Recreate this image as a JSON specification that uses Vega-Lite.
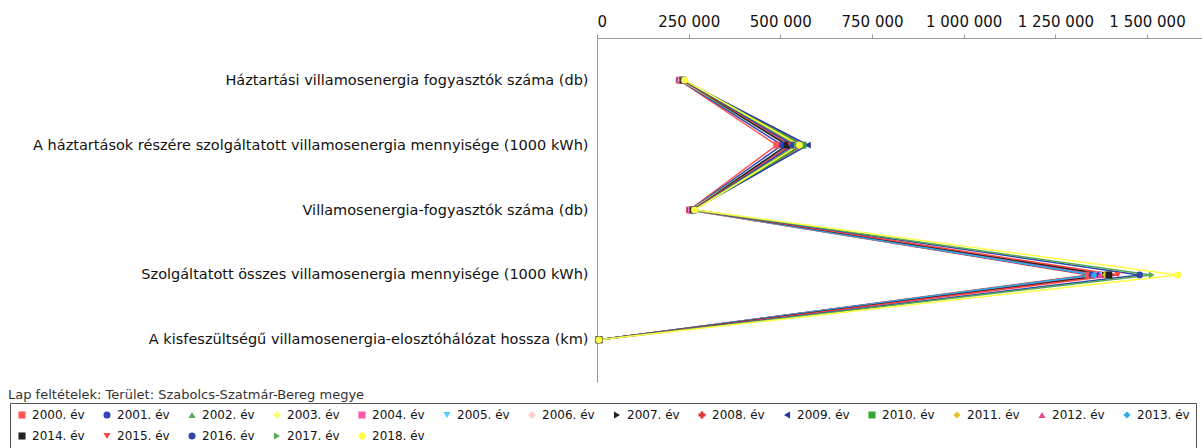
{
  "$schema": "https://vega.github.io/schema/vega-lite/v6.json",
  "autosize": {"type": "none"},
  "width": 605,
  "height": 344,
  "padding": {"left": 597, "top": 38, "right": 0, "bottom": 66},
  "background": "white",
  "title": {"text": "Lap feltételek: Terület: Szabolcs-Szatmár-Bereg megye", "orient": "bottom", "anchor": "start", "frame": "group", "dx": -589, "dy": -65, "offset": 5, "fontSize": 13, "fontWeight": "normal", "font": "DejaVu Sans", "color": "#333"},
  "config": {
    "view": {"stroke": null},
    "font": "DejaVu Sans",
    "legend": {"orient": "none", "legendX": -587, "legendY": 365, "direction": "horizontal", "columns": 14, "strokeColor": "#555", "padding": 6, "labelFontSize": 12, "labelFont": "DejaVu Sans", "labelColor": "#111", "symbolSize": 50, "columnPadding": 16, "rowPadding": 9, "title": null, "symbolStrokeWidth": 0, "fillColor": "white"}
  },
  "resolve": {"legend": {"color": "independent", "shape": "independent"}},
  "datasets": {
    "d": [
      {"year":"2000. év","cat":"Háztartási villamosenergia fogyasztók száma (db)","value":224000},
      {"year":"2001. év","cat":"Háztartási villamosenergia fogyasztók száma (db)","value":225500},
      {"year":"2002. év","cat":"Háztartási villamosenergia fogyasztók száma (db)","value":226800},
      {"year":"2003. év","cat":"Háztartási villamosenergia fogyasztók száma (db)","value":228000},
      {"year":"2004. év","cat":"Háztartási villamosenergia fogyasztók száma (db)","value":229000},
      {"year":"2005. év","cat":"Háztartási villamosenergia fogyasztók száma (db)","value":230200},
      {"year":"2006. év","cat":"Háztartási villamosenergia fogyasztók száma (db)","value":231000},
      {"year":"2007. év","cat":"Háztartási villamosenergia fogyasztók száma (db)","value":232000},
      {"year":"2008. év","cat":"Háztartási villamosenergia fogyasztók száma (db)","value":232800},
      {"year":"2009. év","cat":"Háztartási villamosenergia fogyasztók száma (db)","value":233500},
      {"year":"2010. év","cat":"Háztartási villamosenergia fogyasztók száma (db)","value":234000},
      {"year":"2011. év","cat":"Háztartási villamosenergia fogyasztók száma (db)","value":234600},
      {"year":"2012. év","cat":"Háztartási villamosenergia fogyasztók száma (db)","value":235000},
      {"year":"2013. év","cat":"Háztartási villamosenergia fogyasztók száma (db)","value":235500},
      {"year":"2014. év","cat":"Háztartási villamosenergia fogyasztók száma (db)","value":236000},
      {"year":"2015. év","cat":"Háztartási villamosenergia fogyasztók száma (db)","value":236800},
      {"year":"2016. év","cat":"Háztartási villamosenergia fogyasztók száma (db)","value":237500},
      {"year":"2017. év","cat":"Háztartási villamosenergia fogyasztók száma (db)","value":238200},
      {"year":"2018. év","cat":"Háztartási villamosenergia fogyasztók száma (db)","value":239000},
      {"year":"2000. év","cat":"A háztartások részére szolgáltatott villamosenergia mennyisége (1000 kWh)","value":490000},
      {"year":"2001. év","cat":"A háztartások részére szolgáltatott villamosenergia mennyisége (1000 kWh)","value":505000},
      {"year":"2002. év","cat":"A háztartások részére szolgáltatott villamosenergia mennyisége (1000 kWh)","value":520000},
      {"year":"2003. év","cat":"A háztartások részére szolgáltatott villamosenergia mennyisége (1000 kWh)","value":532000},
      {"year":"2004. év","cat":"A háztartások részére szolgáltatott villamosenergia mennyisége (1000 kWh)","value":538000},
      {"year":"2005. év","cat":"A háztartások részére szolgáltatott villamosenergia mennyisége (1000 kWh)","value":548000},
      {"year":"2006. év","cat":"A háztartások részére szolgáltatott villamosenergia mennyisége (1000 kWh)","value":552000},
      {"year":"2007. év","cat":"A háztartások részére szolgáltatott villamosenergia mennyisége (1000 kWh)","value":558000},
      {"year":"2008. év","cat":"A háztartások részére szolgáltatott villamosenergia mennyisége (1000 kWh)","value":565000},
      {"year":"2009. év","cat":"A háztartások részére szolgáltatott villamosenergia mennyisége (1000 kWh)","value":575000},
      {"year":"2010. év","cat":"A háztartások részére szolgáltatott villamosenergia mennyisége (1000 kWh)","value":562000},
      {"year":"2011. év","cat":"A háztartások részére szolgáltatott villamosenergia mennyisége (1000 kWh)","value":548000},
      {"year":"2012. év","cat":"A háztartások részére szolgáltatott villamosenergia mennyisége (1000 kWh)","value":540000},
      {"year":"2013. év","cat":"A háztartások részére szolgáltatott villamosenergia mennyisége (1000 kWh)","value":525000},
      {"year":"2014. év","cat":"A háztartások részére szolgáltatott villamosenergia mennyisége (1000 kWh)","value":518000},
      {"year":"2015. év","cat":"A háztartások részére szolgáltatott villamosenergia mennyisége (1000 kWh)","value":528000},
      {"year":"2016. év","cat":"A háztartások részére szolgáltatott villamosenergia mennyisége (1000 kWh)","value":535000},
      {"year":"2017. év","cat":"A háztartások részére szolgáltatott villamosenergia mennyisége (1000 kWh)","value":545000},
      {"year":"2018. év","cat":"A háztartások részére szolgáltatott villamosenergia mennyisége (1000 kWh)","value":552000},
      {"year":"2000. év","cat":"Villamosenergia-fogyasztók száma (db)","value":252000},
      {"year":"2001. év","cat":"Villamosenergia-fogyasztók száma (db)","value":253500},
      {"year":"2002. év","cat":"Villamosenergia-fogyasztók száma (db)","value":254800},
      {"year":"2003. év","cat":"Villamosenergia-fogyasztók száma (db)","value":256000},
      {"year":"2004. év","cat":"Villamosenergia-fogyasztók száma (db)","value":257000},
      {"year":"2005. év","cat":"Villamosenergia-fogyasztók száma (db)","value":258000},
      {"year":"2006. év","cat":"Villamosenergia-fogyasztók száma (db)","value":259000},
      {"year":"2007. év","cat":"Villamosenergia-fogyasztók száma (db)","value":260000},
      {"year":"2008. év","cat":"Villamosenergia-fogyasztók száma (db)","value":260500},
      {"year":"2009. év","cat":"Villamosenergia-fogyasztók száma (db)","value":261000},
      {"year":"2010. év","cat":"Villamosenergia-fogyasztók száma (db)","value":261500},
      {"year":"2011. év","cat":"Villamosenergia-fogyasztók száma (db)","value":262000},
      {"year":"2012. év","cat":"Villamosenergia-fogyasztók száma (db)","value":262300},
      {"year":"2013. év","cat":"Villamosenergia-fogyasztók száma (db)","value":262600},
      {"year":"2014. év","cat":"Villamosenergia-fogyasztók száma (db)","value":263000},
      {"year":"2015. év","cat":"Villamosenergia-fogyasztók száma (db)","value":263800},
      {"year":"2016. év","cat":"Villamosenergia-fogyasztók száma (db)","value":264500},
      {"year":"2017. év","cat":"Villamosenergia-fogyasztók száma (db)","value":265200},
      {"year":"2018. év","cat":"Villamosenergia-fogyasztók száma (db)","value":266000},
      {"year":"2000. év","cat":"Szolgáltatott összes villamosenergia mennyisége (1000 kWh)","value":1340000},
      {"year":"2001. év","cat":"Szolgáltatott összes villamosenergia mennyisége (1000 kWh)","value":1350000},
      {"year":"2002. év","cat":"Szolgáltatott összes villamosenergia mennyisége (1000 kWh)","value":1355000},
      {"year":"2003. év","cat":"Szolgáltatott összes villamosenergia mennyisége (1000 kWh)","value":1362000},
      {"year":"2004. év","cat":"Szolgáltatott összes villamosenergia mennyisége (1000 kWh)","value":1368000},
      {"year":"2005. év","cat":"Szolgáltatott összes villamosenergia mennyisége (1000 kWh)","value":1372000},
      {"year":"2006. év","cat":"Szolgáltatott összes villamosenergia mennyisége (1000 kWh)","value":1378000},
      {"year":"2007. év","cat":"Szolgáltatott összes villamosenergia mennyisége (1000 kWh)","value":1385000},
      {"year":"2008. év","cat":"Szolgáltatott összes villamosenergia mennyisége (1000 kWh)","value":1400000},
      {"year":"2009. év","cat":"Szolgáltatott összes villamosenergia mennyisége (1000 kWh)","value":1362000},
      {"year":"2010. év","cat":"Szolgáltatott összes villamosenergia mennyisége (1000 kWh)","value":1392000},
      {"year":"2011. év","cat":"Szolgáltatott összes villamosenergia mennyisége (1000 kWh)","value":1386000},
      {"year":"2012. év","cat":"Szolgáltatott összes villamosenergia mennyisége (1000 kWh)","value":1372000},
      {"year":"2013. év","cat":"Szolgáltatott összes villamosenergia mennyisége (1000 kWh)","value":1356000},
      {"year":"2014. év","cat":"Szolgáltatott összes villamosenergia mennyisége (1000 kWh)","value":1396000},
      {"year":"2015. év","cat":"Szolgáltatott összes villamosenergia mennyisége (1000 kWh)","value":1420000},
      {"year":"2016. év","cat":"Szolgáltatott összes villamosenergia mennyisége (1000 kWh)","value":1480000},
      {"year":"2017. év","cat":"Szolgáltatott összes villamosenergia mennyisége (1000 kWh)","value":1513000},
      {"year":"2018. év","cat":"Szolgáltatott összes villamosenergia mennyisége (1000 kWh)","value":1584000},
      {"year":"2000. év","cat":"A kisfeszültségű villamosenergia-elosztóhálózat hossza (km)","value":5200},
      {"year":"2001. év","cat":"A kisfeszültségű villamosenergia-elosztóhálózat hossza (km)","value":5230},
      {"year":"2002. év","cat":"A kisfeszültségű villamosenergia-elosztóhálózat hossza (km)","value":5260},
      {"year":"2003. év","cat":"A kisfeszültségű villamosenergia-elosztóhálózat hossza (km)","value":5290},
      {"year":"2004. év","cat":"A kisfeszültségű villamosenergia-elosztóhálózat hossza (km)","value":5320},
      {"year":"2005. év","cat":"A kisfeszültségű villamosenergia-elosztóhálózat hossza (km)","value":5350},
      {"year":"2006. év","cat":"A kisfeszültségű villamosenergia-elosztóhálózat hossza (km)","value":5380},
      {"year":"2007. év","cat":"A kisfeszültségű villamosenergia-elosztóhálózat hossza (km)","value":5400},
      {"year":"2008. év","cat":"A kisfeszültségű villamosenergia-elosztóhálózat hossza (km)","value":5420},
      {"year":"2009. év","cat":"A kisfeszültségű villamosenergia-elosztóhálózat hossza (km)","value":5440},
      {"year":"2010. év","cat":"A kisfeszültségű villamosenergia-elosztóhálózat hossza (km)","value":5460},
      {"year":"2011. év","cat":"A kisfeszültségű villamosenergia-elosztóhálózat hossza (km)","value":5480},
      {"year":"2012. év","cat":"A kisfeszültségű villamosenergia-elosztóhálózat hossza (km)","value":5500},
      {"year":"2013. év","cat":"A kisfeszültségű villamosenergia-elosztóhálózat hossza (km)","value":5520},
      {"year":"2014. év","cat":"A kisfeszültségű villamosenergia-elosztóhálózat hossza (km)","value":5540},
      {"year":"2015. év","cat":"A kisfeszültségű villamosenergia-elosztóhálózat hossza (km)","value":5560},
      {"year":"2016. év","cat":"A kisfeszültségű villamosenergia-elosztóhálózat hossza (km)","value":5580},
      {"year":"2017. év","cat":"A kisfeszültségű villamosenergia-elosztóhálózat hossza (km)","value":5600},
      {"year":"2018. év","cat":"A kisfeszültségű villamosenergia-elosztóhálózat hossza (km)","value":5620}
    ]
  },
  "data": {"name": "d"},
  "encoding": {
    "y": {"field": "cat", "type": "nominal", "sort": null, "scale": {"type": "point", "padding": 0.65},
      "axis": {"title": null, "orient": "left", "labelFontSize": 14.5, "labelColor": "#111", "labelLimit": 600, "ticks": false, "labelPadding": 9, "domainColor": "#999", "grid": false}},
    "x": {"field": "value", "type": "quantitative", "scale": {"domain": [0, 1650000], "nice": false, "zero": true},
      "axis": {"title": null, "orient": "top", "values": [0, 250000, 500000, 750000, 1000000, 1250000, 1500000], "labelExpr": "join(split(format(datum.value, ','), ','), ' ')", "labelFontSize": 15, "labelColor": "#111", "tickSize": 4, "tickColor": "#999", "domainColor": "#999", "grid": false, "labelPadding": 5}}
  },
  "layer": [
    {
      "mark": {"type": "line", "strokeWidth": 1.5},
      "encoding": {
        "detail": {"field": "year"},
        "order": {"field": "row", "type": "quantitative"},
        "color": {"field": "year", "type": "nominal", "legend": null,
          "scale": {"domain": ["2000. év","2001. év","2002. év","2003. év","2004. év","2005. év","2006. év","2007. év","2008. év","2009. év","2010. év","2011. év","2012. év","2013. év","2014. év","2015. év","2016. év","2017. év","2018. év"],
            "range": ["#ff5555","#3344bb","#55aa55","#ffff55","#ff55aa","#55ccff","#ffcccc","#222222","#dd3333","#2233aa","#33aa33","#e6c020","#ee4499","#33aaee","#222222","#ff4444","#3344aa","#55aa55","#ffff44"]}}
      }
    },
    {
      "mark": {"type": "point", "filled": true, "size": 45, "opacity": 1},
      "encoding": {
        "color": {"field": "year", "type": "nominal", "legend": {},
          "scale": {"domain": ["2000. év","2001. év","2002. év","2003. év","2004. év","2005. év","2006. év","2007. év","2008. év","2009. év","2010. év","2011. év","2012. év","2013. év","2014. év","2015. év","2016. év","2017. év","2018. év"],
            "range": ["#ff5555","#3344bb","#55aa55","#ffff55","#ff55aa","#55ccff","#ffcccc","#222222","#dd3333","#2233aa","#33aa33","#e6c020","#ee4499","#33aaee","#222222","#ff4444","#3344aa","#55aa55","#ffff44"]}},
        "shape": {"field": "year", "type": "nominal", "legend": {},
          "scale": {"domain": ["2000. év","2001. év","2002. év","2003. év","2004. év","2005. év","2006. év","2007. év","2008. év","2009. év","2010. év","2011. év","2012. év","2013. év","2014. év","2015. év","2016. év","2017. év","2018. év"],
            "range": ["square","circle","triangle-up","diamond","square","triangle-down","cross","triangle-right","cross","triangle-left","square","diamond","triangle-up","diamond","square","triangle-down","circle","triangle-right","circle"]}}
      }
    }
  ]
}
